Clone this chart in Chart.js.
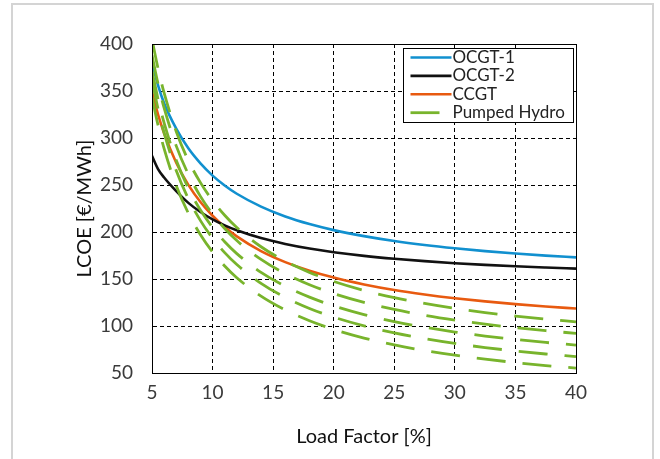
<!DOCTYPE html>
<html>
<head>
<meta charset="utf-8">
<script src="https://cdn.jsdelivr.net/npm/chart.js@4.4.1/dist/chart.umd.min.js"></script>
<style>
  html, body { margin: 0; padding: 0; background: #fff; }
  #wrap { position: relative; width: 660px; height: 459px; overflow: hidden; }
  #frame { position: absolute; left: 11px; top: 3px; width: 639px; height: 480px; border: 2px solid #d4d4d4; }
  #lcoeChart { position: absolute; left: 0; top: 0; }
</style>
</head>
<body>
<div id="wrap">
  <div id="frame"></div>
  <canvas id="lcoeChart" width="660" height="459"></canvas>
</div>
<script>
// load factor [%]
const loadFactor = [5, 5.5, 6, 7, 8, 9, 10, 11, 12, 14, 16, 18, 20, 22.5, 25, 27.5, 30, 32.5, 35, 37.5, 40];

// LCOE [€/MWh]
const ocgt1 = [380, 356, 337, 310, 289, 273, 260, 249.5, 240.7, 227, 216.5, 208.4, 202, 195.6, 190.4, 186.2, 182.7, 179.7, 177.1, 174.9, 173];
const ocgt2 = [281, 267, 258, 243.5, 231, 221.3, 213.5, 207.1, 201.8, 193.5, 187.3, 182.4, 178.5, 174.6, 171.5, 169, 166.8, 165, 163.5, 162.2, 161];
const ccgt  = [349, 325, 305, 273.7, 250.2, 231.9, 217.3, 205.3, 195.4, 179.7, 168, 158.8, 151.5, 144.2, 138.3, 133.6, 129.6, 126.2, 123.3, 120.8, 118.6];

// pumped hydro, 5 cases
const hydro1 = [405, 374, 348, 307, 276, 252.5, 233.4, 217.8, 204.7, 184.3, 168.9, 157, 147.4, 137.8, 130.2, 124, 118.7, 114.3, 110.5, 107.3, 104.4];
const hydro2 = [388, 357.5, 332, 291.6, 261.4, 237.9, 219.1, 203.7, 190.9, 170.8, 155.7, 143.9, 134.5, 125.1, 117.6, 111.4, 106.3, 102, 98.2, 95, 92.2];
const hydro3 = [371.6, 341.3, 316, 276.3, 246.5, 223.3, 204.8, 189.6, 177, 157.1, 142.3, 130.7, 121.4, 112.1, 104.7, 98.7, 93.6, 89.3, 85.7, 82.5, 79.7];
const hydro4 = [361.4, 331, 305.4, 265.4, 235.4, 212.1, 193.4, 178.1, 165.4, 145.4, 130.4, 118.7, 109.4, 100.1, 92.6, 86.5, 81.4, 77.1, 73.4, 70.2, 67.4];
const hydro5 = [343.6, 313.6, 288.7, 249.4, 220, 197.1, 178.8, 163.8, 151.3, 131.7, 117, 105.6, 96.4, 87.2, 79.9, 73.9, 68.9, 64.7, 61.1, 57.9, 55.2];

const xTicks = [5, 10, 15, 20, 25, 30, 35, 40];
const yTicks = [50, 100, 150, 200, 250, 300, 350, 400];

const FONT = 'Lato, "DejaVu Sans", sans-serif';
const BLUE = '#1190cf';
const BLACK = '#111111';
const ORANGE = '#e85a10';
const GREEN = '#78b42c';

function pts(vals) {
  return loadFactor.map((x, i) => ({ x: x, y: vals[i] }));
}

function solid(label, vals, color) {
  return {
    label: label,
    data: pts(vals),
    borderColor: color,
    borderWidth: 2.6,
    pointRadius: 0,
    fill: false,
    cubicInterpolationMode: 'monotone',
    order: 1,
    inLegend: true
  };
}

function hydro(vals, first) {
  return {
    label: 'Pumped Hydro',
    data: pts(vals),
    borderColor: GREEN,
    borderWidth: 2.8,
    borderDash: [29, 17],
    pointRadius: 0,
    fill: false,
    cubicInterpolationMode: 'monotone',
    order: 0,
    inLegend: first
  };
}

// black frame round the plot area
const boxFrame = {
  id: 'boxFrame',
  afterDatasetsDraw(chart) {
    const a = chart.chartArea;
    const ctx = chart.ctx;
    ctx.save();
    ctx.strokeStyle = '#000';
    ctx.lineWidth = 1;
    ctx.strokeRect(Math.round(a.left) + 0.5, Math.round(a.top) + 0.5,
      Math.round(a.right - a.left), Math.round(a.bottom - a.top));
    ctx.restore();
  }
};

// legend box in the upper right corner of the plot
const boxLegend = {
  id: 'boxLegend',
  afterDraw(chart) {
    const a = chart.chartArea;
    const ctx = chart.ctx;
    const items = chart.data.datasets.filter(d => d.inLegend);
    const w = 170, h = 74;
    const x0 = Math.round(a.right) - 173 + 0.5;
    const y0 = Math.round(a.top) + 4 + 0.5;
    ctx.save();
    ctx.fillStyle = '#fff';
    ctx.fillRect(x0, y0, w, h);
    ctx.strokeStyle = '#000';
    ctx.lineWidth = 1;
    ctx.strokeRect(x0, y0, w, h);
    ctx.font = '17px ' + FONT;
    ctx.textBaseline = 'middle';
    ctx.textAlign = 'left';
    items.forEach((d, i) => {
      const y = y0 + 9 + i * 18.4;
      ctx.beginPath();
      ctx.strokeStyle = d.borderColor;
      ctx.lineWidth = d.borderWidth;
      ctx.setLineDash(d.borderDash || []);
      ctx.moveTo(x0 + 7, y);
      ctx.lineTo(x0 + 48, y);
      ctx.stroke();
      ctx.setLineDash([]);
      ctx.fillStyle = '#222';
      ctx.fillText(d.label, x0 + 49, y);
    });
    ctx.restore();
  }
};

const ctx = document.getElementById('lcoeChart').getContext('2d');
new Chart(ctx, {
  type: 'line',
  data: {
    datasets: [
      solid('OCGT-1', ocgt1, BLUE),
      solid('OCGT-2', ocgt2, BLACK),
      solid('CCGT', ccgt, ORANGE),
      hydro(hydro1, true),
      hydro(hydro2, false),
      hydro(hydro3, false),
      hydro(hydro4, false),
      hydro(hydro5, false)
    ]
  },
  options: {
    responsive: false,
    animation: false,
    layout: { padding: { left: 70, right: 84, top: 44, bottom: 0 } },
    plugins: {
      legend: { display: false },
      tooltip: { enabled: false }
    },
    scales: {
      x: {
        type: 'linear',
        min: 5,
        max: 40,
        afterBuildTicks: s => { s.ticks = xTicks.map(v => ({ value: v })); },
        afterFit: s => { s.height = 86; },
        grid: { color: '#000', lineWidth: 1, drawTicks: false },
        border: { display: true, color: '#000', width: 1, dash: [4, 3] },
        ticks: { color: '#3a3a3a', font: { family: FONT, size: 19 }, padding: 8, maxRotation: 0 },
        title: {
          display: true,
          text: 'Load Factor [%]',
          color: '#111',
          font: { family: FONT, size: 20 },
          padding: { top: 0, bottom: 10 }
        }
      },
      y: {
        min: 50,
        max: 400,
        afterBuildTicks: s => { s.ticks = yTicks.map(v => ({ value: v })); },
        afterFit: s => { s.width = 82; },
        grid: { color: '#000', lineWidth: 1, drawTicks: false },
        border: { display: true, color: '#000', width: 1, dash: [4, 3] },
        ticks: { color: '#3a3a3a', font: { family: FONT, size: 19 }, padding: 19 },
        title: {
          display: true,
          text: 'LCOE [€/MWh]',
          color: '#111',
          font: { family: FONT, size: 20 },
          padding: { top: 3, bottom: 0 }
        }
      }
    }
  },
  plugins: [boxFrame, boxLegend]
});
</script>
</body>
</html>
